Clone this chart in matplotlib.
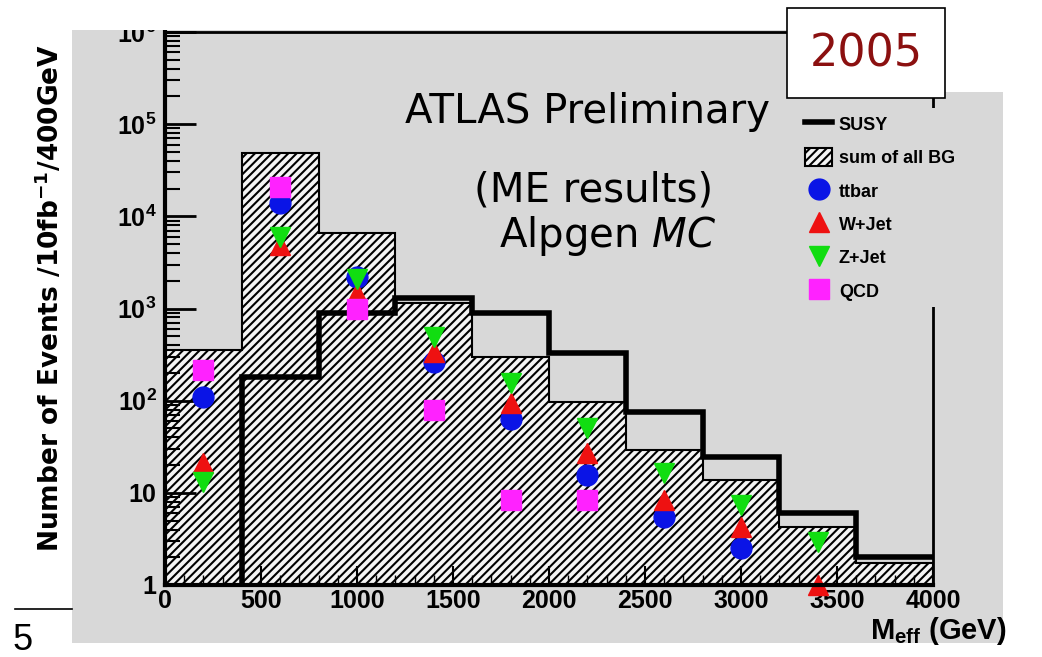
import matplotlib
matplotlib.use("Agg")
import matplotlib.pyplot as plt
import matplotlib.patches as mpatches
from matplotlib.lines import Line2D
from matplotlib.ticker import FixedLocator, LogLocator, NullFormatter
import numpy as np

# binning of M_eff (GeV)
bin_edges = [0, 400, 800, 1200, 1600, 2000, 2400, 2800, 3200, 3600, 4000]
bin_centers = [200, 600, 1000, 1400, 1800, 2200, 2600, 3000, 3400, 3800]

# histograms (events / 10 fb^-1 / 400 GeV)
sum_bg = [355, 48600, 6600, 1150, 297, 96, 29, 13.7, 4.3, 1.75]
susy = [0, 180, 890, 1300, 890, 330, 75, 24.5, 6.0, 2.0]

# individual backgrounds
nan = np.nan
ttbar = [110, 14000, 2200, 262, 63, 15.6, 5.5, 2.5, nan, nan]
wjet = [21, 4900, 1480, 335, 94, 27, 8.3, 4.3, 1.0, nan]
zjet = [13, 5900, 2100, 490, 155, 50, 16.4, 7.4, 2.9, nan]
qcd = [215, 20800, 1000, 79, 8.3, 8.3, nan, nan, nan, nan]

xticks = [0, 500, 1000, 1500, 2000, 2500, 3000, 3500, 4000]
yticks = [1, 10, 100, 1000, 1e4, 1e5, 1e6]
ytick_labels = ["1", "10", r"$\mathbf{10^{2}}$", r"$\mathbf{10^{3}}$",
                r"$\mathbf{10^{4}}$", r"$\mathbf{10^{5}}$", r"$\mathbf{10^{6}}$"]

plt.rcParams["font.family"] = ["Liberation Sans", "DejaVu Sans"]
plt.rcParams["mathtext.fontset"] = "custom"
plt.rcParams["mathtext.rm"] = "Liberation Sans"
plt.rcParams["mathtext.bf"] = "Liberation Sans:bold"
plt.rcParams["mathtext.it"] = "Liberation Sans:italic"
plt.rcParams["hatch.linewidth"] = 1.5

W, H = 1042, 657
fig = plt.figure(figsize=(W / 100, H / 100), dpi=100)
fig.patch.set_facecolor("white")

def fx(px):
    return px / W

def fy(py):
    return 1 - py / H

gray = "#d8d8d8"
# grey slide panel
fig.patches.append(mpatches.Rectangle((fx(72), fy(643)), fx(1003) - fx(72), fy(30) - fy(643),
                                      transform=fig.transFigure, facecolor=gray,
                                      edgecolor="none", zorder=-5))

ax = fig.add_axes([fx(165), fy(585), fx(933) - fx(165), fy(32) - fy(585)])
ax.set_facecolor(gray)
ax.set_yscale("log")
ax.set_xlim(0, 4000)
ax.set_ylim(1, 1e6)

# sum of all backgrounds, hatched
ax.stairs(sum_bg, bin_edges, baseline=1, fill=True, facecolor="#f4f4f4",
          edgecolor="black", hatch="////", linewidth=0, zorder=1)
ax.stairs(sum_bg, bin_edges, baseline=1, fill=False, color="black",
          linewidth=1.5, zorder=2)

# SUSY signal
ax.stairs(np.maximum(susy, 0.1), bin_edges, baseline=None, color="black",
          linewidth=4, zorder=3)

mk = dict(linestyle="none", markersize=15, clip_on=False, zorder=5)
ax.plot(bin_centers, ttbar, marker="o", color="#0a14e6", mec="#0a14e6", **mk)
ax.plot(bin_centers, wjet, marker="^", color="#ee1111", mec="#ee1111", **mk)
ax.plot(bin_centers, zjet, marker="v", color="#11dd11", mec="#11dd11", **mk)
ax.plot(bin_centers, qcd, marker="s", color="#ff22ff", mec="#ff22ff", **mk)

for side in ["left", "bottom"]:
    ax.spines[side].set_linewidth(3)
for side in ["top", "right"]:
    ax.spines[side].set_linewidth(2)
for s in ax.spines.values():
    s.set_zorder(6)

ax.xaxis.set_major_locator(FixedLocator(xticks))
ax.xaxis.set_minor_locator(FixedLocator(np.arange(0, 4001, 100)))
ax.set_xticklabels([str(t) for t in xticks], fontsize=18, fontweight="bold")
ax.yaxis.set_major_locator(FixedLocator(yticks))
ax.yaxis.set_minor_locator(LogLocator(base=10, subs=np.arange(2, 10)))
ax.yaxis.set_minor_formatter(NullFormatter())
ax.set_yticklabels(ytick_labels, fontsize=18, fontweight="bold")
ax.tick_params(axis="y", which="major", direction="in", length=22, width=2, pad=6)
ax.tick_params(axis="y", which="minor", direction="in", length=11, width=1.5)
ax.tick_params(axis="x", which="major", direction="in", length=14, width=1.5, pad=3)
ax.tick_params(axis="x", which="minor", direction="in", length=7, width=1)
ax.tick_params(top=False, right=False)

fig.text(fx(50), fy(298), "Number of Events /10fb$^{\\mathbf{-1}}$/400GeV", rotation=90,
         ha="center", va="center", fontsize=19, fontweight="bold",
         family=["DejaVu Sans"], math_fontfamily="dejavusans")
fig.text(fx(938), fy(631), r"M$_{\mathbf{eff}}$ (GeV)", ha="center", va="center",
         fontsize=21, fontweight="bold")

fig.text(fx(588), fy(112), "ATLAS Preliminary", ha="center", va="center",
         fontsize=29, family=["DejaVu Sans"])
fig.text(fx(594), fy(191), "(ME results)", ha="center", va="center",
         fontsize=29, family=["DejaVu Sans"])
fig.text(fx(608), fy(236), "Alpgen $\\mathit{MC}$", ha="center", va="center",
         fontsize=29, family=["DejaVu Sans"], math_fontfamily="dejavusans")

# legend
handles = [
    Line2D([], [], color="black", linewidth=4),
    mpatches.Patch(facecolor="#f4f4f4", edgecolor="black", hatch="////", linewidth=1.5),
    Line2D([], [], marker="o", color="#0a14e6", linestyle="none", markersize=15),
    Line2D([], [], marker="^", color="#ee1111", linestyle="none", markersize=15),
    Line2D([], [], marker="v", color="#11dd11", linestyle="none", markersize=15),
    Line2D([], [], marker="s", color="#ff22ff", linestyle="none", markersize=15),
]
labels = ["SUSY", "sum of all BG", "ttbar", "W+Jet", "Z+Jet", "QCD"]
leg = fig.legend(handles, labels, loc="upper left", bbox_to_anchor=(fx(790), fy(99)),
                 frameon=True, fancybox=False, facecolor=gray, edgecolor="none",
                 framealpha=1, prop={"size": 13, "weight": "bold"},
                 handlelength=1.5, handleheight=1.2, handletextpad=0.35,
                 labelspacing=0.78, borderpad=0.35)
leg.set_zorder(8)

# white margins of the slide and the year box
fig.patches.append(mpatches.Rectangle((0, fy(30)), 1, 1 - fy(30),
                                      transform=fig.transFigure, facecolor="white",
                                      edgecolor="none", zorder=7))
fig.patches.append(mpatches.Rectangle((fx(945), fy(92)), fx(1042) - fx(945), 1 - fy(92),
                                      transform=fig.transFigure, facecolor="white",
                                      edgecolor="none", zorder=7))
fig.patches.append(mpatches.Rectangle((fx(787), fy(98)), fx(945) - fx(787), fy(8) - fy(98),
                                      transform=fig.transFigure, facecolor="white",
                                      edgecolor="black", linewidth=1.2, zorder=9))
fig.text(fx(866), fy(54), "2005", ha="center", va="center", fontsize=32,
         color="#8b1010", family=["DejaVu Sans"], zorder=10)

# slide decorations
fig.add_artist(Line2D([fx(15), fx(72)], [fy(609), fy(609)], color="black", linewidth=1.2))
fig.text(fx(13), fy(640), "5", ha="left", va="center", fontsize=26)

fig.savefig("out.png", dpi=100)
